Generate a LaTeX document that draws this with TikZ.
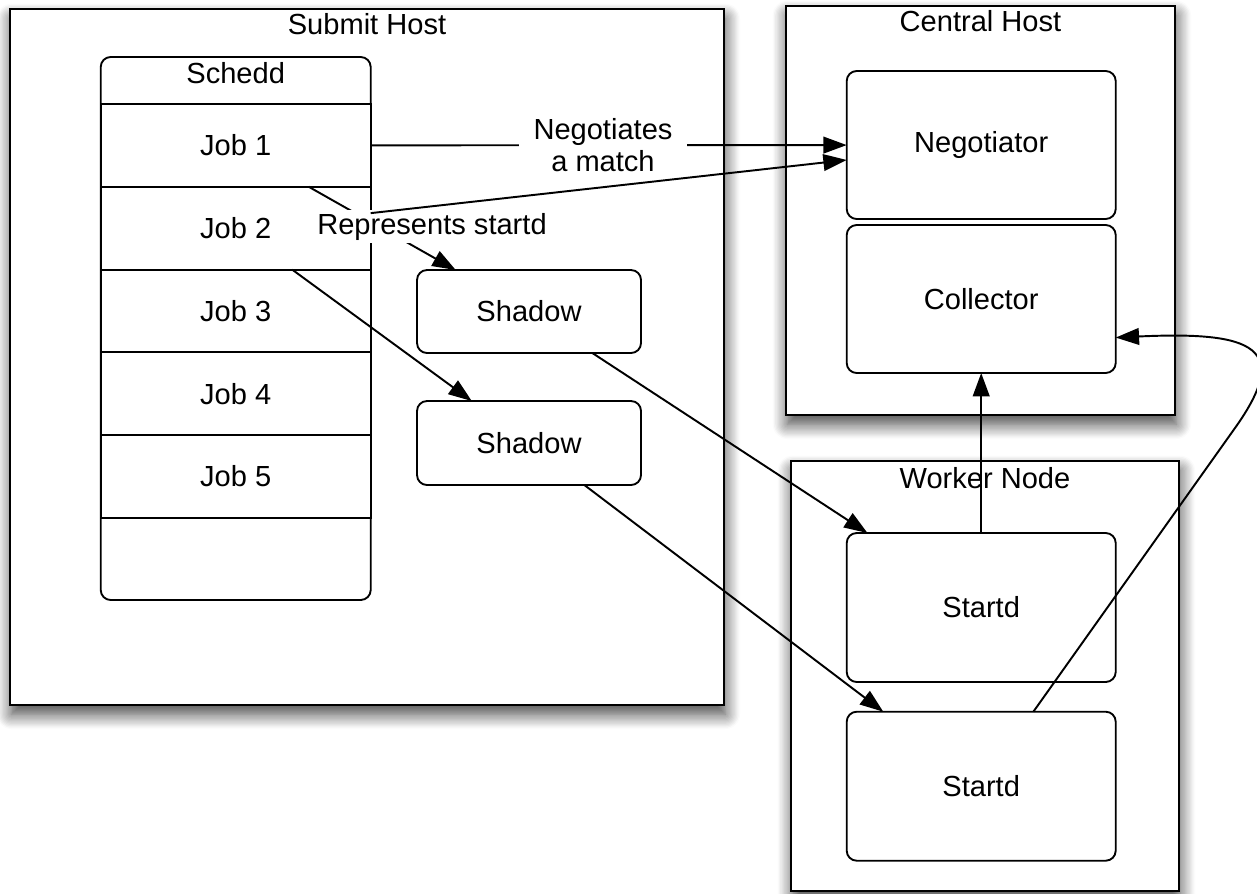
\documentclass[tikz,border=0pt]{standalone}
\usepackage{fontspec}
\setmainfont{Liberation Sans}
\usepackage{tikz}
\usetikzlibrary{arrows.meta, shadows.blur}

\begin{document}
\begin{tikzpicture}[x=0.75pt,y=0.75pt,yscale=-1,xscale=1,
  txt/.style={font=\fontsize{21.8}{24}\selectfont, inner sep=0.75pt},
  hostbox/.style={draw, line width=1.9pt, fill=white, inner sep=0pt, outer sep=0pt,
    blur shadow={shadow xshift=1pt, shadow yshift=-7pt, shadow blur radius=11pt, shadow blur steps=12, shadow opacity=75}},
  roundbox/.style={txt, draw, line width=1.4pt, fill=white, rounded corners=7.5pt, inner sep=0pt, outer sep=0pt},
  jobrow/.style={txt, draw, line width=1.4pt, fill=white, inner sep=0pt, outer sep=0pt, minimum width=202.5pt, minimum height=62.1pt},
  conn/.style={line width=1.45pt, -{Triangle[length=17.5pt,width=12.5pt]}}
]
\useasboundingbox (0,0) rectangle (1257,893);

%Shape: Rectangle (hosts)
\node [hostbox, minimum width=535.5pt, minimum height=522pt] (submit) at (367,357) {};
\node [hostbox, minimum width=291.75pt, minimum height=306.75pt] (central) at (980.5,210.5) {};
\node [hostbox, minimum width=291pt, minimum height=322.5pt] (worker) at (985,676) {};
% Text Node
\node [txt, anchor=north, inner sep=3pt] (submitlbl) at (submit.north) {Submit Host};
% Text Node
\node [txt, anchor=north, inner sep=3pt] (centrallbl) at (central.north) {Central Host};
% Text Node
\node [txt, anchor=north, inner sep=4.5pt] (workerlbl) at (worker.north) {Worker Node};

%Shape: Rounded Rectangle (schedd and its jobs)
\node [roundbox, minimum width=202.5pt, minimum height=407.25pt] (schedd) at (235.7,328.5) {};
\node [txt, anchor=north, inner sep=4pt] (scheddlbl) at (schedd.north) {Schedd};
\node [jobrow] (job1) at (235.7,145.4) {Job 1};
\node [jobrow] (job2) at (235.7,228.2) {Job 2};
\node [jobrow] (job3) at (235.7,311) {Job 3};
\node [jobrow] (job4) at (235.7,393.8) {Job 4};
\node [jobrow] (job5) at (235.7,476.6) {Job 5};

%Shape: Rounded Rectangle (shadows)
\node [roundbox, minimum width=168pt, minimum height=62.25pt] (shadow1) at (529,311.5) {Shadow};
\node [roundbox, minimum width=168pt, minimum height=63pt] (shadow2) at (529,443) {Shadow};

%Shape: Rounded Rectangle (daemons)
\node [roundbox, minimum width=201.75pt, minimum height=111pt] (negotiator) at (981.2,145) {Negotiator};
\node [roundbox, minimum width=201.75pt, minimum height=111pt] (collector) at (981.2,299) {Collector};
\node [roundbox, minimum width=201.75pt, minimum height=111.75pt] (startd1) at (981.2,607.5) {Startd};
\node [roundbox, minimum width=201.75pt, minimum height=111.75pt] (startd2) at (981.2,786.2) {Startd};

%Straight Lines
\draw [conn] (job1) -- node [txt, fill=white, pos=0.488, inner xsep=11pt, inner ysep=2pt, align=center] (negotiateslbl) {Negotiates\\a match} (negotiator);
%Straight Lines
\draw [conn] (job1) -- (shadow1);
%Straight Lines
\draw [conn] (job2) -- (shadow2);
%Straight Lines
\draw [conn] (shadow1) -- (startd1);
%Straight Lines
\draw [conn] (shadow2) -- (startd2);
%Straight Lines
\draw [conn] (startd1) -- (collector);
%Curve Lines
\coordinate (bend) at (1235,428);
\draw [conn] (startd2.55) -- (bend) .. controls (1292,348) and (1255,331) .. (collector.-16);

% Text Node
\node [txt, fill=white, inner sep=2pt] (representslbl) at (432,226.5) {Represents startd};
%Straight Lines
\draw [conn] (job2) -- (negotiator);

\end{tikzpicture}
\end{document}
